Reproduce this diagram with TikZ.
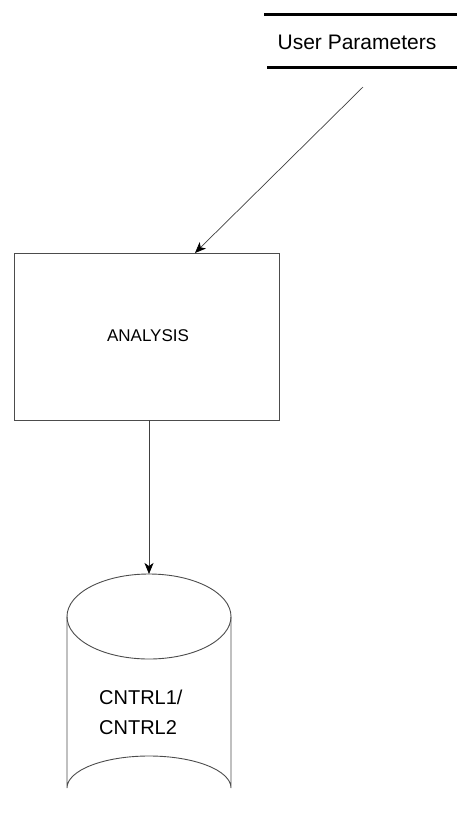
\documentclass[tikz,border=0pt]{standalone}
\usepackage{fontspec}
\setmainfont{Liberation Sans}
\usetikzlibrary{arrows.meta,calc}
\begin{document}
\begin{tikzpicture}[x=1pt,y=-1pt,
  thinline/.style={draw=black!70, line width=0.9pt},
  conn/.style={draw=black!75, line width=0.7pt, -{Stealth[length=11pt,width=9pt,inset=3pt,black,fill=black]}},
  storeline/.style={draw=black, line width=3pt},
  procbox/.style={rectangle, thinline, minimum width=265pt, minimum height=167pt, inner sep=0pt}
]
\useasboundingbox (0,0) rectangle (457,823);
% User Parameters data store
\node[font=\fontsize{21}{25}\selectfont, anchor=center] (up) at (357,42) {User Parameters};
\coordinate (ul1) at (264,14.5);
\coordinate (ur1) at (457,14.5);
\coordinate (ul2) at (267,67.5);
\coordinate (ur2) at (457,67.5);
\draw[storeline] (ul1) -- (ur1);
\draw[storeline] (ul2) -- (ur2);
% ANALYSIS box
\node[procbox] (analysis) at (146.5,336.5) {};
\node[font=\fontsize{17}{20}\selectfont] (atext) at (148,336) {ANALYSIS};
% arrow from User Parameters
\coordinate (a1) at (363,87);
\coordinate (a2) at (195,253);
\draw[conn] (a1) -- (a2);
% cylinder
\coordinate (ctop) at (149,574);
\draw[thinline] (149,616.5) ellipse [x radius=82, y radius=42.5];
\draw[thinline] (67,616.5) -- (67,788) arc[start angle=180, end angle=360, x radius=82, y radius=32] -- (231,616.5);
\node[font=\fontsize{20}{30}\selectfont, align=left, anchor=north west, inner sep=0pt] (db) at (99,690) {CNTRL1/\\CNTRL2};
% arrow down
\draw[conn] (analysis.south -| ctop) -- (ctop);
\end{tikzpicture}
\end{document}
